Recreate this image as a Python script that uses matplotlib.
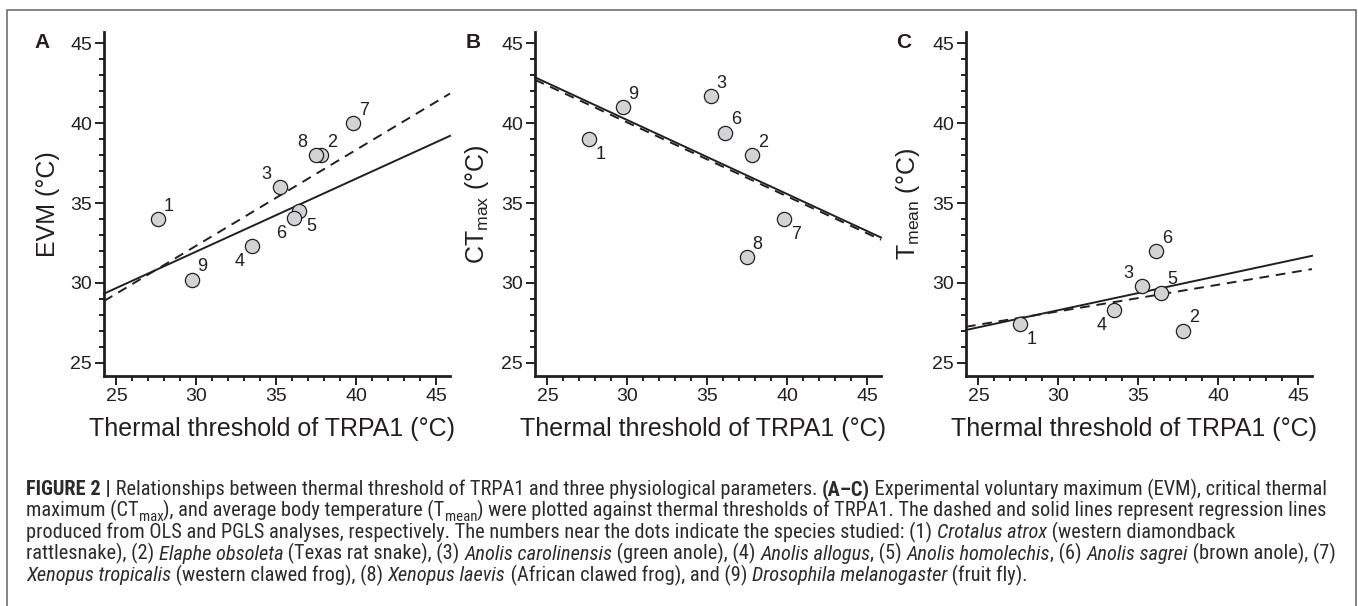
import os
import matplotlib
matplotlib.use("Agg")
import numpy as np
from matplotlib import pyplot as plt
from matplotlib import font_manager as fm
from matplotlib.patches import Rectangle

# species numbers and their TRPA1 thermal thresholds
species = [1, 2, 3, 4, 5, 6, 7, 8, 9]
trpa1 = [27.6, 37.8, 35.2, 33.5, 36.4, 36.1, 39.8, 37.45, 29.7]

# panel A: EVM
evm_species = [1, 2, 3, 4, 5, 6, 7, 8, 9]
evm = [34.0, 38.0, 36.0, 32.3, 34.5, 34.05, 40.0, 38.0, 30.2]
# panel B: CTmax
ctmax_species = [1, 2, 3, 6, 7, 8, 9]
ctmax = [39.0, 38.0, 41.7, 39.4, 34.0, 31.6, 41.0]
# panel C: Tmean
tmean_species = [1, 2, 3, 4, 5, 6]
tmean = [27.4, 27.0, 29.8, 28.3, 29.4, 32.0]

# regression lines (slope, intercept): dashed = OLS, solid = PGLS
evm_ols = (0.601, 14.31)
evm_pgls = (0.457, 18.26)
ctmax_ols = (-0.4634, 53.95)
ctmax_pgls = (-0.464, 54.12)
tmean_ols = (0.167, 23.21)
tmean_pgls = (0.2148, 21.85)

panel_letters = ['A', 'B', 'C']
ylabels = ['EVM (°C)', 'CT$_{\\mathrm{max}}$ (°C)', 'T$_{\\mathrm{mean}}$ (°C)']
xlabel = 'Thermal threshold of TRPA1 (°C)'

# caption: r = regular, b = bold, i = italic, s = subscript
caption_lines = [
    [('FIGURE 2 |', 'b'), (' Relationships between thermal threshold of TRPA1 and three physiological parameters. ', 'r'),
     ('(A–C)', 'b'), (' Experimental voluntary maximum (EVM), critical thermal', 'r')],
    [('maximum (CT', 'r'), ('max', 's'), ('), and average body temperature (T', 'r'), ('mean', 's'),
     (') were plotted against thermal thresholds of TRPA1. The dashed and solid lines represent regression lines', 'r')],
    [('produced from OLS and PGLS analyses, respectively. The numbers near the dots indicate the species studied: (1) ', 'r'),
     ('Crotalus atrox', 'i'), (' (western diamondback', 'r')],
    [('rattlesnake), (2) ', 'r'), ('Elaphe obsoleta', 'i'), (' (Texas rat snake), (3) ', 'r'),
     ('Anolis carolinensis', 'i'), (' (green anole), (4) ', 'r'), ('Anolis allogus', 'i'), (', (5) ', 'r'),
     ('Anolis homolechis', 'i'), (', (6) ', 'r'), ('Anolis sagrei', 'i'), (' (brown anole), (7)', 'r')],
    [('Xenopus tropicalis', 'i'), (' (western clawed frog), (8) ', 'r'), ('Xenopus laevis', 'i'),
     (' (African clawed frog), and (9) ', 'r'), ('Drosophila melanogaster', 'i'), (' (fruit fly).', 'r')],
]

# where each number label sits relative to its dot
label_pos = [
    {1: 'ur', 2: 'ur', 3: 'ul', 4: 'll', 5: 'lr', 6: 'll', 7: 'ur', 8: 'ul', 9: 'ur'},
    {1: 'lr', 2: 'ur', 3: 'ur', 6: 'ur', 7: 'lr', 8: 'ur', 9: 'ur'},
    {1: 'lr', 2: 'ur', 3: 'ul', 4: 'll', 5: 'ur', 6: 'ur'},
]
offsets = {'ur': (11, 13), 'lr': (12, -15), 'ul': (-13, 13), 'll': (-13, -15)}

# pick a narrow face for the caption if one is installed
files = {os.path.basename(f.fname): f.fname for f in fm.fontManager.ttflist}
candidates = [
    ('LiberationSansNarrow-Regular.ttf', 'LiberationSansNarrow-Bold.ttf', 'LiberationSansNarrow-Italic.ttf'),
    ('RobotoCondensed-Regular.ttf', 'RobotoCondensed-Bold.ttf', 'RobotoCondensed-Italic.ttf'),
    ('NotoSans-Condensed.ttf', 'NotoSans-CondensedBold.ttf', 'NotoSans-CondensedItalic.ttf'),
    ('DejaVuSansCondensed.ttf', 'DejaVuSansCondensed-Bold.ttf', 'DejaVuSansCondensed-Oblique.ttf'),
    ('LiberationSans-Regular.ttf', 'LiberationSans-Bold.ttf', 'LiberationSans-Italic.ttf'),
]
cap_files = None
for c in candidates:
    if all(n in files for n in c):
        cap_files = [files[n] for n in c]
        break

def cap_prop(style, size):
    if cap_files is None:
        fp = fm.FontProperties(family='Liberation Sans', size=size)
        if style == 'b':
            fp.set_weight('bold')
        if style == 'i':
            fp.set_style('italic')
        return fp
    idx = {'r': 0, 's': 0, 'b': 1, 'i': 2}[style]
    return fm.FontProperties(fname=cap_files[idx], size=size * (0.72 if style == 's' else 1))

plt.rcParams['font.family'] = ['Liberation Sans', 'DejaVu Sans']
plt.rcParams['mathtext.fontset'] = 'custom'
plt.rcParams['mathtext.rm'] = 'Liberation Sans'

ink = '#231f20'
W, H = 1358, 606
fig = plt.figure(figsize=(W / 100, H / 100), dpi=100)

# caption frame
fig.patches.append(Rectangle((7 / W, -0.1), 1349 / W, 1.1 - 10 / H, transform=fig.transFigure,
                             fill=False, edgecolor='#6d6e71', linewidth=1.2))

ydata = [evm, ctmax, tmean]
yspecies = [evm_species, ctmax_species, tmean_species]
lines = [(evm_ols, evm_pgls), (ctmax_ols, ctmax_pgls), (tmean_ols, tmean_pgls)]
lefts = [104, 535, 966]
xlim = (24.22, 45.85)
ylim = (24.17, 45.72)

for i in range(3):
    ax = fig.add_axes([lefts[i] / W, (H - 376) / H, 346 / W, 344 / H])
    ax.set_xlim(*xlim)
    ax.set_ylim(*ylim)
    for s in ['top', 'right']:
        ax.spines[s].set_visible(False)
    for s in ['left', 'bottom']:
        ax.spines[s].set_linewidth(2)
        ax.spines[s].set_color(ink)
    ax.set_xticks(np.arange(25, 46, 5))
    ax.set_yticks(np.arange(25, 46, 5))
    ax.set_xticks(np.arange(25, 46, 1), minor=True)
    ax.set_yticks(np.arange(25, 46, 1), minor=True)
    ax.tick_params(which='major', direction='out', length=6.5, width=1.4, color=ink,
                   labelsize=14, labelcolor=ink, pad=2)
    ax.tick_params(which='minor', direction='out', length=3.5, width=1.4, color=ink)

    xs = np.array(xlim)
    (m1, b1), (m2, b2) = lines[i]
    ax.plot(xs, m1 * xs + b1, color=ink, lw=1.4, ls=(0, (5, 3.5)), clip_on=False)
    ax.plot(xs, m2 * xs + b2, color=ink, lw=1.4, clip_on=False)

    px = [trpa1[species.index(k)] for k in yspecies[i]]
    ax.scatter(px, ydata[i], s=105, facecolor='#d1d3d4', edgecolor=ink, linewidth=0.9, zorder=3)
    for k, x, y in zip(yspecies[i], px, ydata[i]):
        ax.annotate(str(k), (x, y), xytext=offsets[label_pos[i][k]], textcoords='offset pixels',
                    ha='center', va='center', fontsize=13, color=ink)

    ax.set_xlabel(xlabel, fontsize=18, color=ink, va='top')
    ax.xaxis.set_label_coords(0.485, -0.118)
    ax.set_ylabel(ylabels[i], fontsize=18, color=ink)
    ax.yaxis.set_label_coords(-0.128, 0.5)

    fig.text((lefts[i] - 62) / W, 1 - 43 / H, panel_letters[i], ha='center', va='center',
             fontsize=15, fontweight='bold', color=ink)

# caption, laid out piece by piece; size chosen so the full lines fit the box
renderer = fig.canvas.get_renderer()

def seg_width(text, fp):
    w1 = renderer.get_text_width_height_descent(text + '|', fp, ismath=False)[0]
    w2 = renderer.get_text_width_height_descent('|', fp, ismath=False)[0]
    return w1 - w2

def line_width(line, size):
    return sum(seg_width(t, cap_prop(st, size)) for t, st in line)

base = 12.0
size = base * min(1309 / line_width(caption_lines[0], base),
                  1312 / line_width(caption_lines[1], base),
                  1312 / line_width(caption_lines[3], base))
for j, line in enumerate(caption_lines):
    xpix = 26.0
    ypix = H - (495 + 21.5 * j)
    for t, st in line:
        fp = cap_prop(st, size)
        dy = -size * 100 / 72 * 0.22 if st == 's' else 0
        fig.text(xpix / W, (ypix + dy) / H, t, ha='left', va='baseline', fontproperties=fp,
                 color='#2b2b2b')
        xpix += seg_width(t, fp)

fig.savefig('out.png', dpi=100)
